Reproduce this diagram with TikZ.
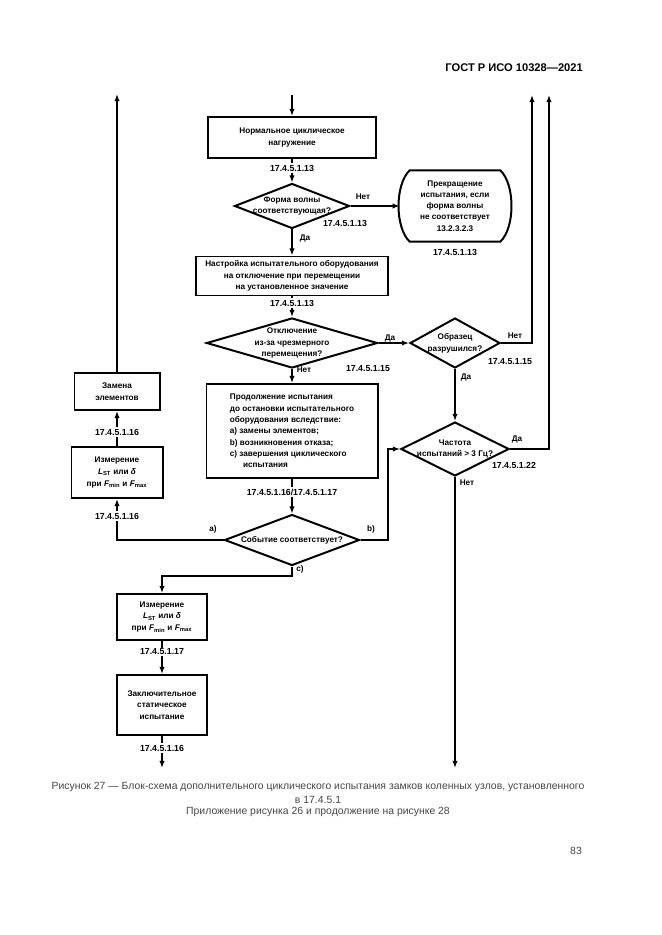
\documentclass[tikz,border=0pt]{standalone}
\usepackage{fontspec}
\setmainfont{Liberation Sans}
\usepackage{xcolor}
\usetikzlibrary{shapes.geometric, arrows.meta, positioning, calc}
\definecolor{captiongray}{RGB}{70,70,70}

\begin{document}
\begin{tikzpicture}[
    x=0.03cm, y=-0.03cm,
    procbox/.style={rectangle, draw, line width=1.7pt, align=center, inner sep=1pt, font=\fontsize{7}{10}\selectfont\bfseries},
    decision/.style={diamond, draw, line width=1.7pt, inner sep=0pt},
    dtext/.style={align=center, inner sep=0pt, font=\fontsize{7}{10}\selectfont\bfseries},
    reflabel/.style={inner sep=1pt, font=\fontsize{7.5}{9}\selectfont\bfseries},
    branch/.style={inner sep=1pt, font=\fontsize{7}{9}\selectfont\bfseries},
    flowline/.style={line width=1.7pt},
    flowarrow/.style={line width=1.7pt, -{Latex[length=6pt, width=4.5pt]}},
    caption/.style={inner sep=0pt, text=captiongray, font=\fontsize{8.9}{10}\selectfont},
]
\useasboundingbox (0,0) rectangle (661,935);

% page header
\node[inner sep=0pt, anchor=east, font=\fontsize{9.5}{11}\selectfont\bfseries] (gost) at (583,68) {ГОСТ Р ИСО 10328—2021};

% main column
\coordinate (topin) at (292,95);
\node[procbox, minimum width=5.04cm, minimum height=1.23cm] (load) at (292,137.5) {Нормальное циклическое\\нагружение};
\node[reflabel] (r1) at (292,168) {17.4.5.1.13};

\node[decision, minimum width=3.45cm, minimum height=1.35cm] (wave) at (292,206) {};
\node[dtext] (wavet) at (wave) {Форма волны\\соответствующая?};
\node[branch] (waveno) at (363,197) {Нет};
\node[reflabel] (r2) at (345,223) {17.4.5.1.13};
\node[branch] (waveyes) at (305,238) {Да};

% terminator
\node[inner sep=0pt, minimum width=3.3cm, minimum height=2.13cm, align=center, font=\fontsize{7}{9.5}\selectfont\bfseries] (stop) at (455,206) {Прекращение\\испытания, если\\форма волны\\не соответствует\\13.2.3.2.3};
\draw[flowline] ($(stop.north west)+(10,0)$) -- ($(stop.north east)+(-10,0)$)
    .. controls ($(stop.north east)+(5,14)$) and ($(stop.south east)+(5,-14)$) .. ($(stop.south east)+(-10,0)$)
    -- ($(stop.south west)+(10,0)$)
    .. controls ($(stop.south west)+(-5,-14)$) and ($(stop.north west)+(-5,14)$) .. cycle;
\node[reflabel] (r2b) at (455,252) {17.4.5.1.13};

\node[procbox, minimum width=5.76cm, minimum height=1.17cm] (setup) at (292,276) {Настройка испытательного оборудования\\на отключение при перемещении\\на установленное значение};
\node[reflabel] (r3) at (292,303) {17.4.5.1.13};

\node[decision, minimum width=5.13cm, minimum height=1.5cm] (trip) at (292,343) {};
\node[dtext] (tript) at (trip) {Отключение\\из-за чрезмерного\\перемещения?};
\node[branch] (tripyes) at (390,338) {Да};
\node[branch] (tripno) at (304,370) {Нет};
\node[reflabel] (r4) at (368,369) {17.4.5.1.15};

\node[decision, minimum width=2.7cm, minimum height=1.5cm] (broken) at (455,343) {};
\node[dtext] (brokent) at (broken) {Образец\\разрушился?};
\node[branch] (brokenno) at (515,336) {Нет};
\node[reflabel] (r5) at (510,362) {17.4.5.1.15};
\node[branch] (brokenyes) at (466,377) {Да};
\coordinate (brokentop) at (532,95);

\node[decision, minimum width=3.24cm, minimum height=1.62cm] (freq) at (455,449) {};
\node[dtext] (freqt) at (freq) {Частота\\испытаний > 3 Гц?};
\node[branch] (freqyes) at (517,439) {Да};
\node[reflabel] (r6) at (514,465) {17.4.5.1.22};
\node[branch] (freqno) at (467,483) {Нет};
\coordinate (freqtop) at (549,95);
\coordinate (freqend) at (455,768);

\node[procbox, align=left, minimum width=5.13cm, minimum height=2.82cm, font=\fontsize{7}{9.7}\selectfont\bfseries] (cont) at (292,431) {Продолжение испытания\\до остановки испытательного\\оборудования вследствие:\\a) замены элементов;\\b) возникновения отказа;\\c) завершения циклического\\\hspace{1.6em}испытания};
\node[reflabel] (r7) at (292,492) {17.4.5.1.16/17.4.5.1.17};

\node[decision, minimum width=4.05cm, minimum height=1.53cm] (event) at (292,540) {};
\node[dtext] (eventt) at (event) {Событие соответствует?};
\node[branch] (evta) at (213,529) {a)};
\node[branch] (evtb) at (371,529) {b)};
\node[branch] (evtc) at (300,569) {c)};
\coordinate (bturn) at (388,540);
\coordinate (cturn) at (292,576);

% left column
\node[reflabel] (r8) at (117,516) {17.4.5.1.16};
\node[procbox, minimum width=2.73cm, minimum height=1.53cm] (mes1) at (117,472.5) {Измерение\\\textit{L}\textsubscript{ST} или \textit{δ}\\при \textit{F}\textsubscript{min} и \textit{F}\textsubscript{max}};
\node[reflabel] (r9) at (117,432) {17.4.5.1.16};
\node[procbox, minimum width=2.55cm, minimum height=1.11cm] (zam) at (117,391.5) {Замена\\элементов};
\coordinate (zamtop) at (117,94);

% lower column
\node[procbox, minimum width=2.7cm, minimum height=1.38cm] (mes2) at (162,617) {Измерение\\\textit{L}\textsubscript{ST} или \textit{δ}\\при \textit{F}\textsubscript{min} и \textit{F}\textsubscript{max}};
\node[reflabel] (r10) at (162,652) {17.4.5.1.17};
\node[procbox, minimum width=2.7cm, minimum height=1.8cm] (final) at (162,705) {Заключительное\\статическое\\испытание};
\node[reflabel] (r11) at (162,748) {17.4.5.1.16};
\coordinate (finalend) at (162,768);

% connectors
\draw[flowarrow] (topin) -- (load);
\draw[flowline] (load) -- (r1);
\draw[flowarrow] (r1) -- (wave);
\draw[flowarrow] (wave.east) -- (stop.west);
\draw[flowarrow] (wave.south) -- (setup.north);
\draw[flowline] (setup) -- (r3);
\draw[flowarrow] (r3) -- (trip);
\draw[flowarrow] (trip.east) -- (broken.west);
\draw[flowarrow] (trip.south) -- (cont.north);
\draw[flowarrow] (broken.east) -| (brokentop);
\draw[flowarrow] (broken.south) -- (freq.north);
\draw[flowarrow] (freq.east) -| (freqtop);
\draw[line width=1.2pt, -{Latex[length=6pt, width=4.5pt]}] (freq.south) -- (freqend);
\draw[flowline] (cont) -- (r7);
\draw[flowarrow] (r7) -- (event);
\draw[flowline] (event.west) -| (r8.south);
\draw[flowarrow] (r8) -- (mes1);
\draw[flowline] (mes1) -- (r9);
\draw[flowarrow] (r9) -- (zam);
\draw[flowarrow] (zam) -- (zamtop);
\draw[flowarrow] (event.east) -- (bturn) |- (freq.west);
\draw[flowarrow] (event.south) -- (cturn) -| (mes2.north);
\draw[flowline] (mes2) -- (r10);
\draw[flowarrow] (r10) -- (final);
\draw[flowline] (final) -- (r11);
\draw[flowarrow] (r11) -- (finalend);

% caption
\node[caption] (cap1) at (318,787) {Рисунок 27 — Блок-схема дополнительного циклического испытания замков коленных узлов, установленного};
\node[caption] (cap2) at (318,800) {в 17.4.5.1};
\node[caption] (cap3) at (318,812) {Приложение рисунка 26 и продолжение на рисунке 28};
\node[caption] (pageno) at (576,851) {83};
\end{tikzpicture}
\end{document}
